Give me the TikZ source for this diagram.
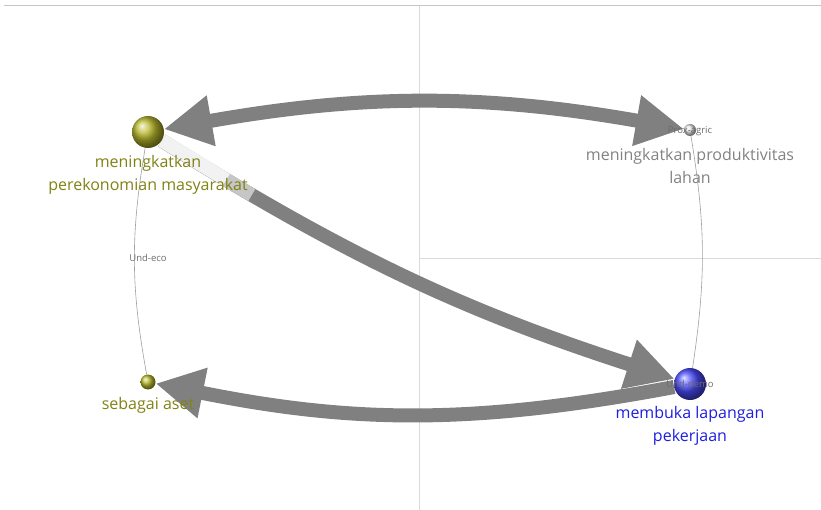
\documentclass[tikz,border=0pt]{standalone}
\usepackage{fontspec}
\setmainfont{Open Sans}
\usepackage{xcolor}
\usepackage{tikz}
\usetikzlibrary{arrows.meta}
\definecolor{edgegray}{RGB}{128,128,128}
\definecolor{gridgray}{RGB}{218,218,218}
\definecolor{ecoolive}{RGB}{128,130,20}
\definecolor{ecoball}{RGB}{185,185,45}
\definecolor{demoblue}{RGB}{30,30,225}
\definecolor{demoball}{RGB}{75,75,255}
\definecolor{agricgray}{RGB}{130,130,130}
\pgfdeclarelayer{back}
\pgfsetlayers{back,main}
\tikzset{bigtip/.tip={Triangle[length=48pt,width=48pt]}}

\begin{document}
\begin{tikzpicture}[x=1pt,y=-1pt,
    bigarrow/.style={line width=14pt,draw=edgegray},
    fadepart/.style={line width=14pt,draw=#1},
    thinlink/.style={draw=gray!75,line width=0.6pt},
    bignames/.style={font=\fontsize{16}{22.5}\selectfont,align=center,inner sep=0pt},
    smallnames/.style={font=\fontsize{9.5}{11}\selectfont,text=gray!85!black,inner sep=1pt}]
    \useasboundingbox (0,0) rectangle (821,510);
    % spheres
    \node[circle,minimum size=32pt,inner sep=0pt,ball color=ecoball] (eco) at (148,132) {};
    \node[circle,minimum size=12pt,inner sep=0pt,ball color=white!80!gray] (agric) at (690,130) {};
    \node[circle,minimum size=15pt,inner sep=0pt,ball color=ecoball] (aset) at (148,382) {};
    \node[circle,minimum size=32pt,inner sep=0pt,ball color=demoball] (demo) at (690,384) {};
    \begin{pgfonlayer}{back}
        \draw[line width=1pt,draw=gray!45] (4,6)--(821,6);
        \draw[line width=0.8pt,draw=gridgray] (419,6)--(419,510);
        \draw[line width=0.8pt,draw=gridgray] (419,258)--(821,258);
        \draw[thinlink] (eco) to[bend right=10] (aset);
        \draw[thinlink] (agric) to[bend left=9] (demo);
        \draw[bigarrow,bigtip-bigtip] (eco) to[bend left=10] (agric);
        \draw[bigarrow,-bigtip] (eco) to[bend right=7] coordinate[pos=0.12] (fadeA) coordinate[pos=0.17] (fadeB) (demo);
        %\draw[fadepart=white] (eco)--(fadeA);
        \draw[fadepart=white!55!edgegray] (fadeA)--(fadeB);
        \draw[fadepart=white!90!edgegray] (eco)--(fadeA);
        \draw[bigarrow,-bigtip] (demo) to[bend left=11] (aset);
    \end{pgfonlayer}
    % labels
    \node[bignames,text=ecoolive] (econame) at (148,175) {meningkatkan\\perekonomian masyarakat};
    \node[bignames,text=agricgray] (agricname) at (690,166) {meningkatkan produktivitas\\lahan};
    \node[bignames,text=ecoolive] (asetname) at (148,405) {sebagai aset};
    \node[bignames,text=demoblue] (demoname) at (690,426) {membuka lapangan\\pekerjaan};
    \node[smallnames] (ecotag) at (148,258) {Und-eco};
    \node[smallnames] (agrictag) at (690,131) {Prox-agric};
    \node[smallnames] (demotag) at (690,384) {Und-demo};
\end{tikzpicture}
\end{document}
